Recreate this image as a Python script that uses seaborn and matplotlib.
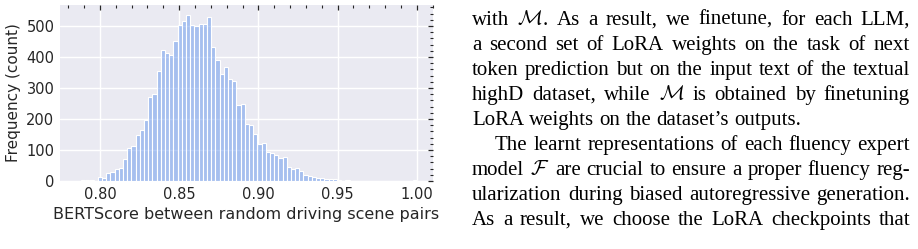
import numpy as np
import pandas as pd
import matplotlib
matplotlib.use("Agg")
import matplotlib.pyplot as plt
import seaborn as sns

# ---- data: histogram of BERTScore between random driving scene pairs ----
bin_lo = 0.7854
bin_hi = 1.0
counts = [1, 2, 3, 3, 1,
          12, 10, 25, 30, 39, 41, 71, 106, 113, 150, 166,
          196, 271, 282, 355, 423, 413, 407, 453, 504, 515,
          536, 503, 500, 508, 508, 530, 432, 392, 344, 367,
          328, 322, 244, 250, 183, 180, 151, 119, 123, 92,
          89, 85, 73, 77, 46, 39, 42, 33, 19, 16,
          12, 11, 9, 5, 5, 5, 2, 1, 2, 1,
          1, 0, 1, 0, 0, 0, 0, 0, 0, 0, 0, 0, 0, 0, 2]
x_ticks = [0.80, 0.85, 0.90, 0.95, 1.00]
y_ticks = [0, 100, 200, 300, 400, 500]
x_label = "BERTScore between random driving scene pairs"
y_label = "Frequency (count)"

paper_lines = [
    "with $\\mathcal{M}$. As a result, we finetune, for each LLM,",
    "a second set of LoRA weights on the task of next",
    "token prediction but on the input text of the textual",
    "highD dataset, while $\\mathcal{M}$ is obtained by finetuning",
    "LoRA weights on the dataset\u2019s outputs.",
    "The learnt representations of each fluency expert",
    "model $\\mathcal{F}$ are crucial to ensure a proper fluency reg-",
    "ularization during biased autoregressive generation.",
    "As a result, we choose the LoRA checkpoints that",
]
justified = [True, True, True, True, False, True, True, True, True]
indented = [False, False, False, False, False, True, False, False, False]

# ---- figure ----
W, H = 918, 249
sns.set_theme(style="darkgrid")
plt.rcParams["font.family"] = ["DejaVu Sans"]
plt.rcParams["mathtext.fontset"] = "cm"

fig = plt.figure(figsize=(W / 100, H / 100), dpi=100)
ax = fig.add_axes([60 / W, 1 - 181 / H, (433 - 60) / W, (181 - 5) / H])

n_bins = len(counts)
edges = np.linspace(bin_lo, bin_hi, n_bins + 1)
df = pd.DataFrame({"score": (edges[:-1] + edges[1:]) / 2, "count": counts})
sns.histplot(data=df, x="score", weights="count", bins=n_bins,
             binrange=(bin_lo, bin_hi), ax=ax,
             color="cornflowerblue", alpha=0.5, edgecolor="white", linewidth=0.8)

ax.set_xlim(0.7748, 1.0102)
ax.set_ylim(0, 568)
ax.set_xticks(x_ticks)
ax.set_xticklabels([f"{t:.2f}" for t in x_ticks])
ax.set_yticks(y_ticks)
ax.set_xlabel(x_label, fontsize=11.5, color=".15")
ax.set_ylabel(y_label, fontsize=11, color=".15")
ax.xaxis.set_minor_locator(matplotlib.ticker.MultipleLocator(0.01))
ax.yaxis.set_minor_locator(matplotlib.ticker.MultipleLocator(20))
ax.tick_params(axis="both", which="major", labelsize=10.5, colors=".15",
               top=True, right=True, bottom=False, left=False,
               direction="in", length=3.5, width=0.9, pad=4)
ax.tick_params(axis="both", which="minor", top=True, right=True,
               bottom=False, left=False, direction="in", length=2,
               width=0.8, color=".15")
ax.grid(True, which="major", color="white", linewidth=1)
ax.grid(False, which="minor")
for s in ax.spines.values():
    s.set_visible(False)

# ---- paper text on the right, justified word by word ----
fig.canvas.draw()
renderer = fig.canvas.get_renderer()
fs = 15
left_px, right_px, indent_px = 472, 910, 495
base0, lead = 25, 25
space_px = 0.25 * fs * 100 / 72
for i, line in enumerate(paper_lines):
    words = line.split(" ")
    yb = 1 - (base0 + i * lead) / H
    x0 = indent_px if indented[i] else left_px
    txts = [fig.text(0, yb, w, fontsize=fs, family=["Liberation Serif"],
                     va="baseline", ha="left", color="black") for w in words]
    widths = [t.get_window_extent(renderer).width for t in txts]
    if justified[i] and len(words) > 1:
        gap = (right_px - x0 - sum(widths)) / (len(words) - 1)
    else:
        gap = space_px
    x = x0
    for t, w in zip(txts, widths):
        t.set_x(x / W)
        x += w + gap

fig.savefig("out.png", dpi=100)
